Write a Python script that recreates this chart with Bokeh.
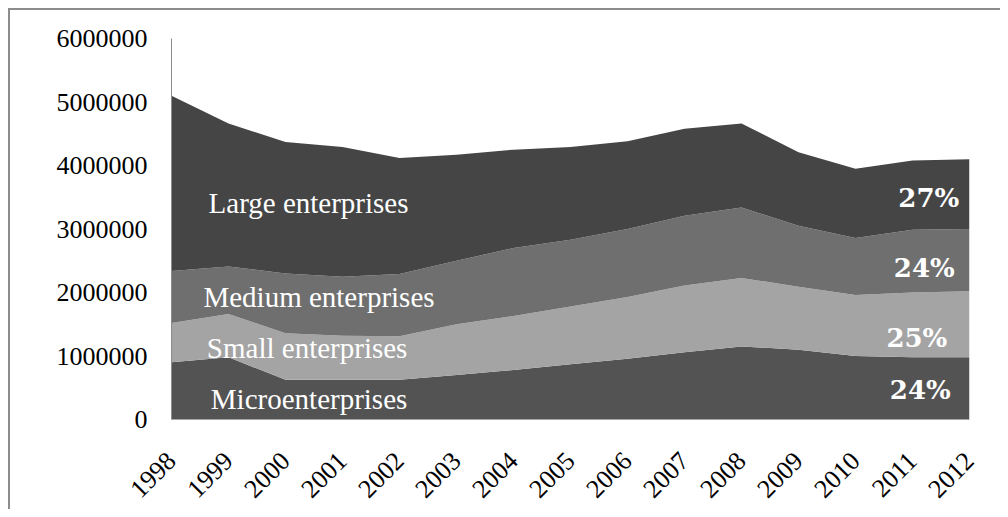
from bokeh.plotting import figure
from bokeh.models import FixedTicker, PrintfTickFormatter, Range1d
from bokeh.core.properties import value
from bokeh.embed import file_html
from bokeh.resources import INLINE
import math

years = list(range(1998, 2013))
micro = [900000, 980000, 625000, 625000, 625000, 700000, 780000, 870000, 955000, 1060000, 1150000, 1100000, 1000000, 980000, 980000]
small = [620000, 680000, 735000, 695000, 685000, 800000, 850000, 910000, 975000, 1050000, 1080000, 990000, 960000, 1020000, 1040000]
medium = [820000, 750000, 940000, 930000, 980000, 1000000, 1070000, 1050000, 1070000, 1100000, 1110000, 960000, 900000, 990000, 980000]
large = [2760000, 2250000, 2070000, 2040000, 1830000, 1670000, 1550000, 1460000, 1380000, 1370000, 1320000, 1160000, 1090000, 1090000, 1100000]

series_names = ["Microenterprises", "Small enterprises", "Medium enterprises", "Large enterprises"]
series_keys = ["micro", "small", "medium", "large"]
colors = ["#535353", "#a4a4a4", "#6f6f6f", "#454545"]
y_ticks = [0, 1000000, 2000000, 3000000, 4000000, 5000000, 6000000]

# label anchor positions (annotation placement)
name_x = [1998.69, 1998.62, 1998.56, 1998.65]
name_y = [320000, 1123000, 1937000, 3407000]
pct_x = [2011.67, 2011.61, 2011.74, 2011.82]
pct_y = [460000, 1279000, 2391000, 3493000]

data = dict(year=years, micro=micro, small=small, medium=medium, large=large)

p = figure(width=992, height=501, output_backend="svg", toolbar_location=None,
           x_range=Range1d(1998, 2012), y_range=Range1d(0, 6000000),
           min_border_left=161, min_border_right=33, min_border_top=28, min_border_bottom=92)
p.styles = {"margin-top": "8px", "margin-left": "8px",
            "border-top": "2px solid #8c8c8c", "border-left": "2px solid #8c8c8c"}
p.outline_line_color = None
p.xgrid.visible = False
p.ygrid.visible = False
p.background_fill_color = "white"
p.border_fill_color = "white"

p.varea_stack(stackers=series_keys, x="year", color=colors, source=data)

# share labels from last year
vals_last = [micro[-1], small[-1], medium[-1], large[-1]]
total_last = sum(vals_last)
pcts = ["%d%%" % round(100 * v / total_last) for v in vals_last]

p.text(x=name_x, y=name_y, text=series_names, text_color="white",
       text_font=value("Liberation Serif"), text_font_size="29px",
       text_align="left", text_baseline="alphabetic")
p.text(x=pct_x, y=pct_y, text=pcts, text_color="white",
       text_font=value("DejaVu Serif"), text_font_style="bold", text_font_size="26px",
       text_align="right", text_baseline="alphabetic")

xa = p.xaxis[0]
xa.ticker = FixedTicker(ticks=years)
xa.major_label_orientation = math.pi / 4
xa.major_tick_line_color = None
xa.minor_tick_line_color = None
xa.axis_line_color = "#a6a6a6"
xa.major_label_text_font = "Liberation Serif"
xa.major_label_text_font_size = "26px"
xa.major_label_text_color = "black"
xa.major_label_standoff = 31

ya = p.yaxis[0]
ya.ticker = FixedTicker(ticks=y_ticks)
ya.formatter = PrintfTickFormatter(format="%d")
ya.major_tick_line_color = None
ya.minor_tick_line_color = None
ya.axis_line_color = "#8c8c8c"
ya.major_label_text_font = "Liberation Serif"
ya.major_label_text_font_size = "26px"
ya.major_label_text_color = "black"
ya.major_label_standoff = 18

open("out.html", "w").write(file_html(p, INLINE))
